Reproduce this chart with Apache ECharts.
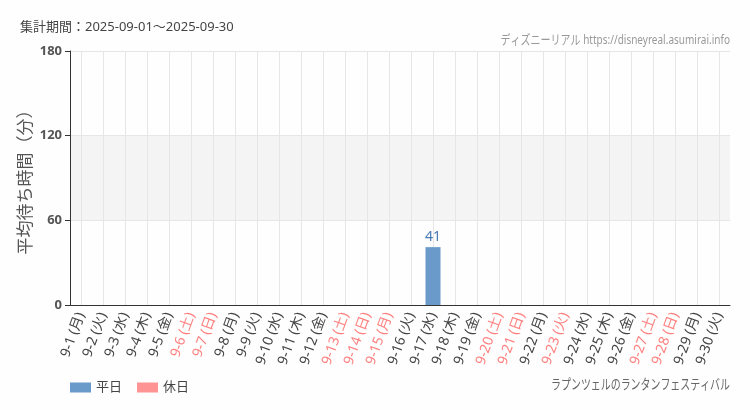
<!DOCTYPE html>
<html><head><meta charset="utf-8">
<script src="https://cdn.jsdelivr.net/npm/echarts@6/dist/echarts.min.js"></script>
<style>html,body{margin:0;padding:0;background:#fdfefd}#c{width:750px;height:410px}</style>
</head><body><div id="c"></div>
<script>
const categories = ['9-1 (月)','9-2 (火)','9-3 (水)','9-4 (木)','9-5 (金)','9-6 (土)','9-7 (日)','9-8 (月)','9-9 (火)','9-10 (水)','9-11 (木)','9-12 (金)','9-13 (土)','9-14 (日)','9-15 (月)','9-16 (火)','9-17 (水)','9-18 (木)','9-19 (金)','9-20 (土)','9-21 (日)','9-22 (月)','9-23 (火)','9-24 (水)','9-25 (木)','9-26 (金)','9-27 (土)','9-28 (日)','9-29 (月)','9-30 (火)'];
const holidayFlags = [0,0,0,0,0,1,1,0,0,0,0,0,1,1,1,0,0,0,0,1,1,0,1,0,0,0,1,1,0,0];
const waitValues = [null,null,null,null,null,null,null,null,null,null,null,null,null,null,null,null,41,null,null,null,null,null,null,null,null,null,null,null,null,null];
const yTicks = [0,60,120,180];
const weekdayValues = waitValues.map((v,i)=>holidayFlags[i]?null:v);
const holidayValues = waitValues.map((v,i)=>holidayFlags[i]?v:null);

const chart = echarts.init(document.getElementById('c'));
const base = 'Noto Sans, Noto Sans CJK JP, sans-serif';
chart.setOption({
  backgroundColor: '#fdfefd',
  animation: false,
  textStyle: {fontFamily: base},
  title: {text: '集計期間：2025-09-01～2025-09-30', left: 15, top: 16,
    textStyle: {fontSize: 13, fontWeight: 'normal', color: '#444'}},
  graphic: [
    {type: 'text', x: 730, y: 40, scaleX: 0.77,
      style: {text: 'ディズニーリアル https://disneyreal.asumirai.info', fill: '#999', fontSize: 13, align: 'right', verticalAlign: 'middle', fontFamily: base}},
    {type: 'text', x: 730, y: 385, scaleX: 0.71,
      style: {text: 'ラプンツェルのランタンフェスティバル', fill: '#666', fontSize: 14, align: 'right', verticalAlign: 'middle', fontFamily: base}}
  ],
  legend: {left: 65, top: 376, itemWidth: 21, itemHeight: 10, itemGap: 15, icon: 'rect',
    textStyle: {fontSize: 13, color: '#444'},
    data: [{name:'平日', itemStyle:{color:'#6a9ac9'}}, {name:'休日', itemStyle:{color:'#ff9494'}}]},
  grid: {left: 70, right: 20, top: 51, bottom: 105},
  xAxis: {type: 'category', data: categories,
    axisLine: {lineStyle: {color: '#333'}},
    axisTick: {alignWithLabel: true, lineStyle: {color: '#333'}},
    splitLine: {show: true, alignWithLabel: true, lineStyle: {color: '#e6e6e6'}},
    axisLabel: {rotate: 70, fontSize: 14, interval: 0, margin: 8,
      color: (v, i) => holidayFlags[i] ? '#ff8080' : '#444'}},
  yAxis: {type: 'value', min: 0, max: 180, interval: 60,
    name: '平均待ち時間（分）', nameLocation: 'middle', nameGap: 35, nameMoveOverlap: false,
    nameTextStyle: {fontSize: 17, color: '#555'},
    axisLine: {show: true, lineStyle: {color: '#333'}},
    axisTick: {show: true, lineStyle: {color: '#333'}},
    axisLabel: {fontSize: 13, fontWeight: 'bold', color: '#555'},
    splitLine: {show: true, lineStyle: {color: '#e6e6e6'}},
    splitArea: {show: true, areaStyle: {color: ['rgba(0,0,0,0)','#f4f4f4','rgba(0,0,0,0)']}}},
  series: [
    {name: '平日', type: 'bar', stack: 'a', barWidth: 15, data: weekdayValues,
      itemStyle: {color: '#6a9ac9'},
      label: {show: true, position: 'top', color: '#4a7ab5', fontSize: 14, distance: 3}},
    {name: '休日', type: 'bar', stack: 'a', barWidth: 15, data: holidayValues,
      itemStyle: {color: '#ff9494'},
      label: {show: true, position: 'top', color: '#ff7070', fontSize: 14, distance: 3}}
  ]
});
</script></body></html>
